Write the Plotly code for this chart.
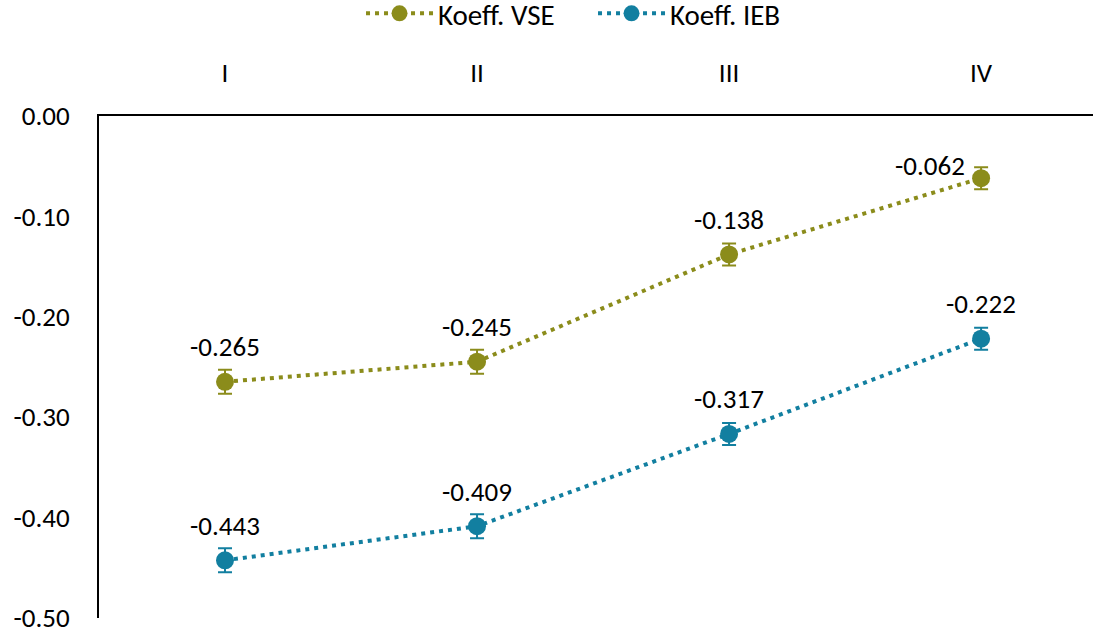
import plotly.graph_objects as go

categories = ["I", "II", "III", "IV"]
vse = [-0.265, -0.245, -0.138, -0.062]
ieb = [-0.443, -0.409, -0.317, -0.222]
vse_err = [0.012, 0.012, 0.011, 0.011]
ieb_err = [0.012, 0.012, 0.011, 0.011]
y_ticks = [0.0, -0.1, -0.2, -0.3, -0.4, -0.5]
y_ticktext = ["0.00", "-0.10", "-0.20", "-0.30", "-0.40", "-0.50"]

FONT = "Carlito, Calibri, Lato, sans-serif"
OLIVE = "#8B8C1B"
TEAL = "#127FA0"
FS = 27

fig = go.Figure()
for si, (name, vals, err, col) in enumerate([("Koeff. VSE", vse, vse_err, OLIVE), ("Koeff. IEB", ieb, ieb_err, TEAL)]):
    fig.add_trace(go.Scatter(
        x=categories, y=vals, name=name, mode="lines+markers",
        line=dict(color=col, width=4, dash="4px,5px"),
        marker=dict(color=col, size=18),
        error_y=dict(type="data", array=err, color=col, thickness=2, width=7),
        cliponaxis=False,
    ))
    for pi, (c, v) in enumerate(zip(categories, vals)):
        # Excel nudged the last VSE label to the left of its point
        xs, ys = (-51, 13) if (si == 0 and pi == 3) else (0, 35)
        fig.add_annotation(x=c, y=v, text=f"{v:.3f}", showarrow=False, xshift=xs, yshift=ys,
                           font=dict(size=FS, color="#000000", family=FONT))

fig.update_layout(
    width=1093, height=632,
    margin=dict(l=99, r=0, t=116, b=14, autoexpand=False),
    plot_bgcolor="white", paper_bgcolor="white",
    font=dict(family=FONT, size=FS, color="#000000"),
    showlegend=True,
    legend=dict(orientation="h", x=0.497, xanchor="center", y=1.255, yref="paper", yanchor="top",
                font=dict(size=29), itemwidth=67, entrywidth=150),
    xaxis=dict(side="top", range=[-0.5, 3.444], showline=True, linecolor="#000000", linewidth=2,
               ticks="", showgrid=False, ticklabelstandoff=21, tickfont=dict(size=FS), automargin=False),
    yaxis=dict(range=[-0.5005, 0.0], tickvals=y_ticks, ticktext=y_ticktext, showline=True,
               linecolor="#000000", linewidth=2, ticks="", showgrid=False, zeroline=False,
               ticklabelstandoff=22, tickfont=dict(size=FS), automargin=False,
               ticklabeloverflow="allow"),
)

fig.write_html("out.html", config={"displayModeBar": False},
               post_script="document.body.style.margin='0';document.body.style.overflow='hidden';")
